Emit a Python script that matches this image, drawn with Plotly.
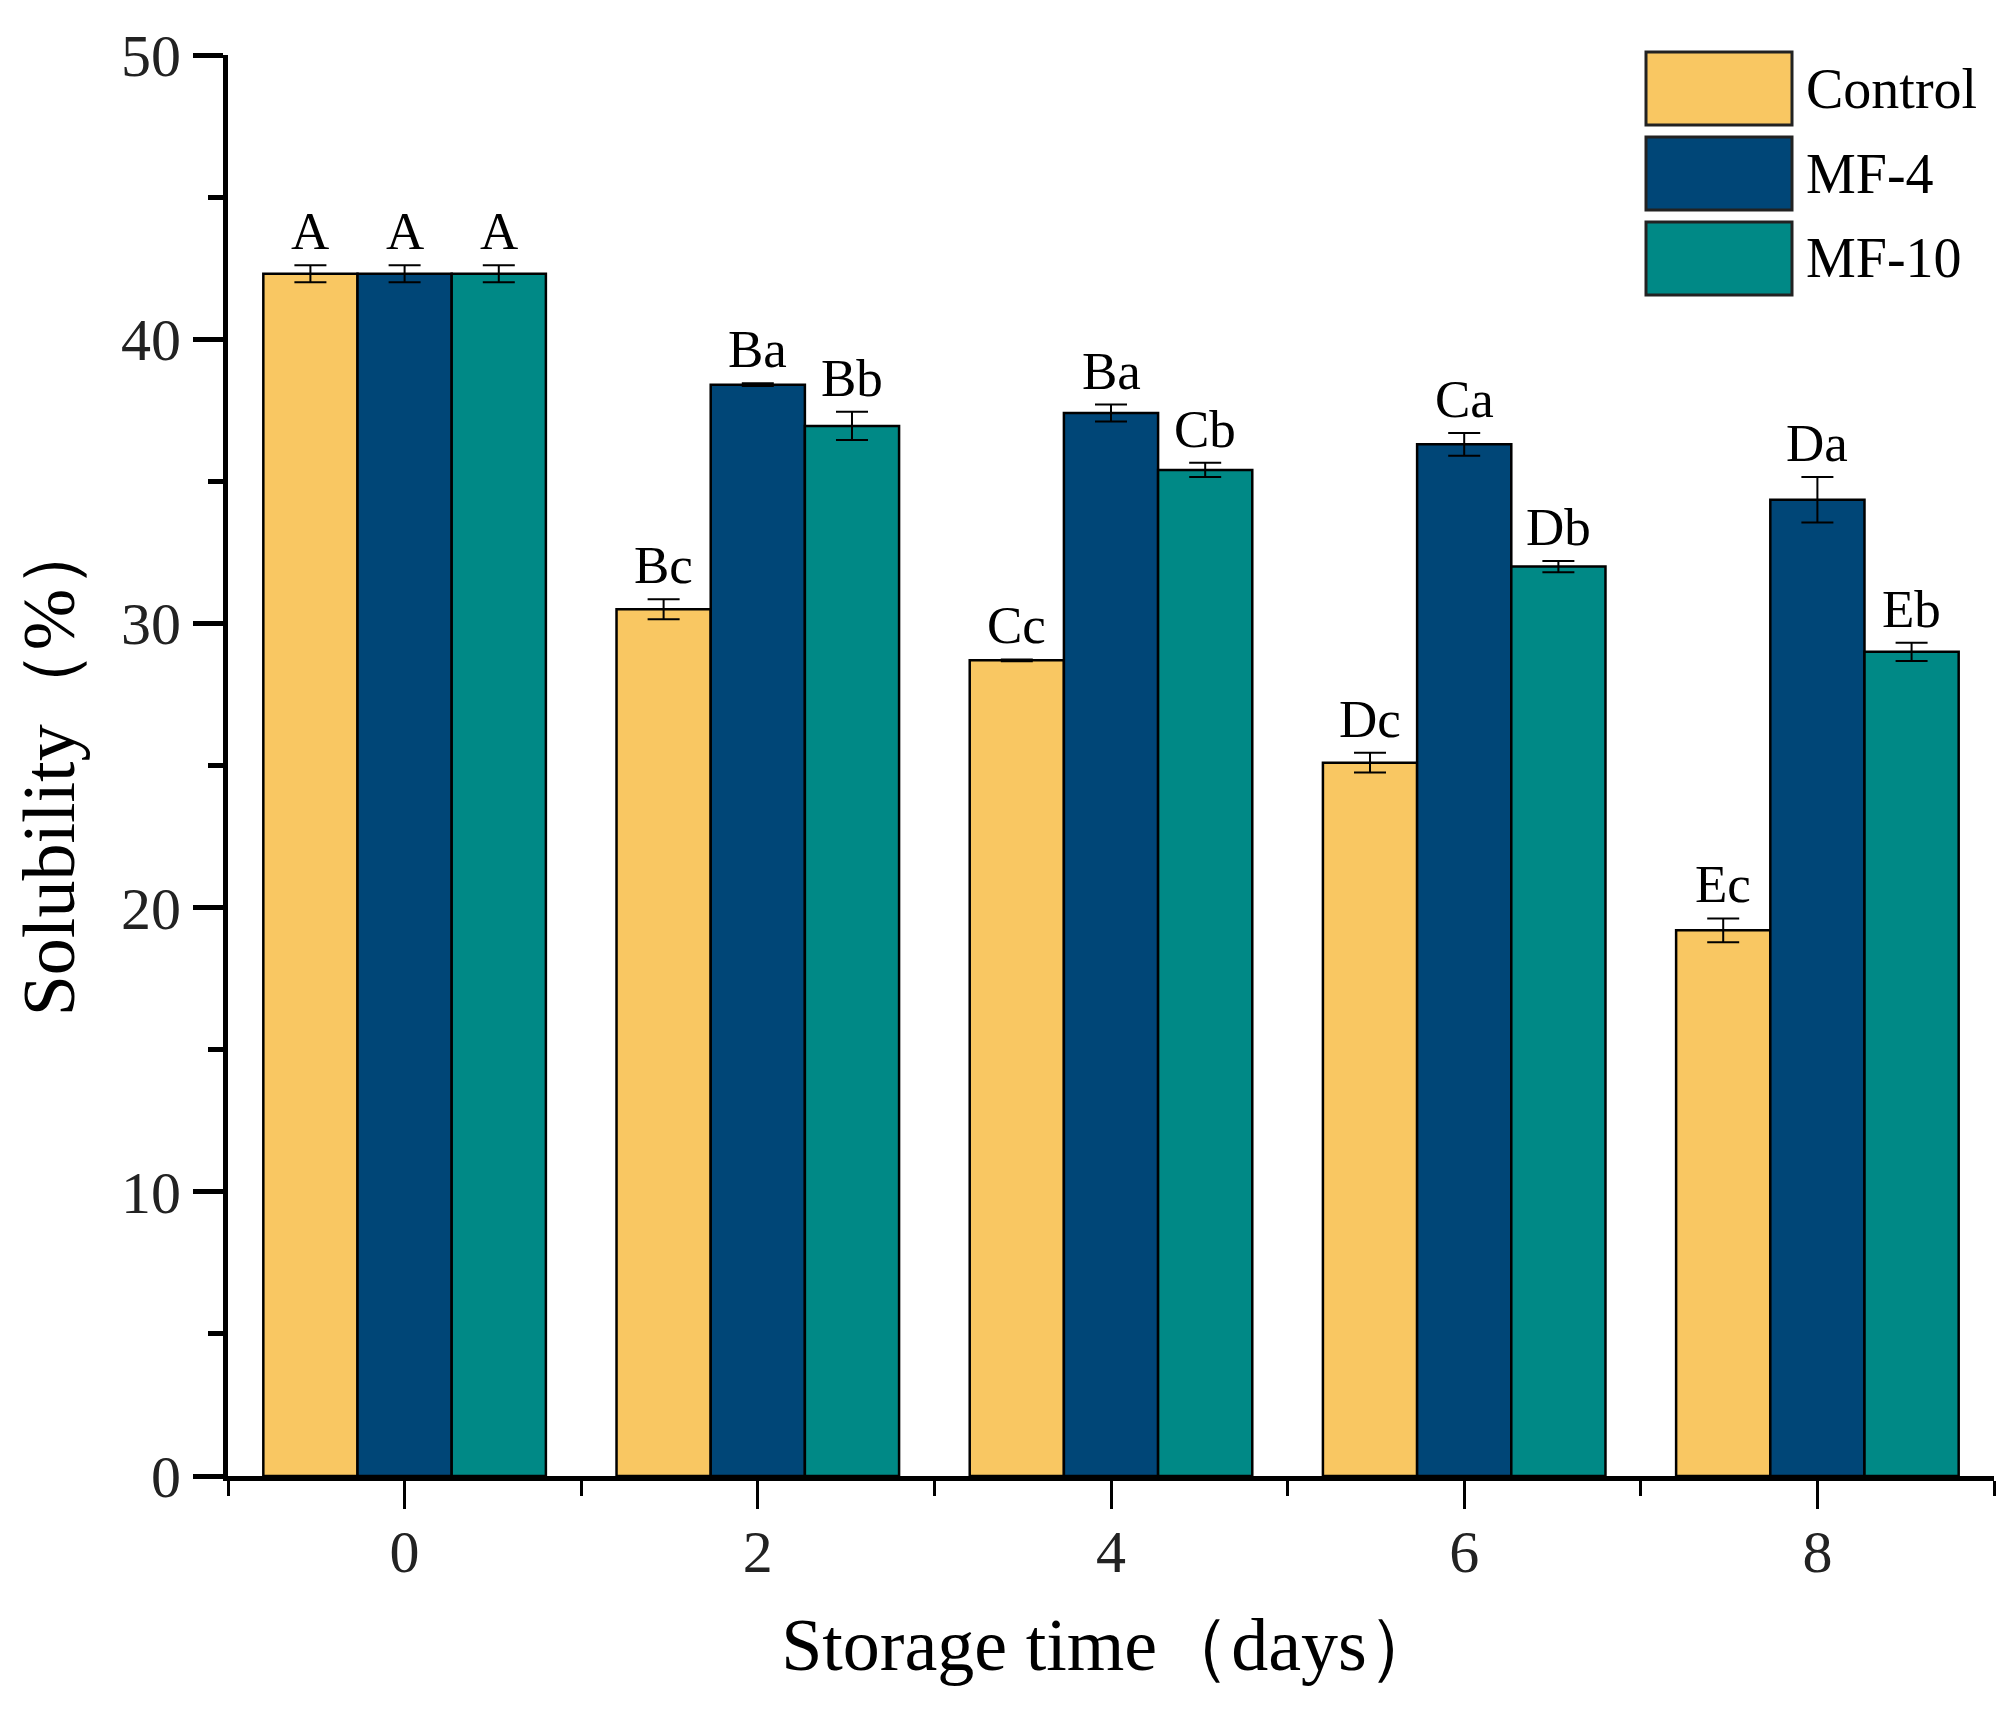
import plotly.graph_objects as go

days = [0, 2, 4, 6, 8]
series_names = ["Control", "MF-4", "MF-10"]
control = [42.3, 30.5, 28.7, 25.1, 19.2]
control_err = [0.3, 0.35, 0.03, 0.35, 0.42]
mf4 = [42.3, 38.4, 37.4, 36.3, 34.35]
mf4_err = [0.3, 0.05, 0.3, 0.4, 0.8]
mf10 = [42.3, 36.95, 35.4, 32.0, 29.0]
mf10_err = [0.3, 0.5, 0.25, 0.2, 0.32]
control_labels = ["A", "Bc", "Cc", "Dc", "Ec"]
mf4_labels = ["A", "Ba", "Ba", "Ca", "Da"]
mf10_labels = ["A", "Bb", "Cb", "Db", "Eb"]
colors = ["#F9C762", "#004677", "#008986"]

values = [control, mf4, mf10]
errors = [control_err, mf4_err, mf10_err]
labels = [control_labels, mf4_labels, mf10_labels]

FONT = "Liberation Serif, Times New Roman, serif"
W, H = 2016, 1719
ML, MR, MT, MB = 220, 30, 47, 251
BARGAP = 0.2

fig = go.Figure()
for name, v, e, c in zip(series_names, values, errors, colors):
    fig.add_trace(go.Bar(
        x=days, y=v, name=name, showlegend=False,
        marker=dict(color=c, line=dict(color="black", width=2.5)),
        error_y=dict(type="data", array=e, visible=True, color="black",
                     thickness=2, width=16),
    ))

# significance letters above error bars
n = len(series_names)
step = min(b - a for a, b in zip(days[:-1], days[1:]))
bw = step * (1 - BARGAP) / n
annotations = []
for i, (v, e, lab) in enumerate(zip(values, errors, labels)):
    off = (i - (n - 1) / 2) * bw
    for d, val, err, t in zip(days, v, e, lab):
        annotations.append(dict(
            x=d + off, y=val + err, xref="x", yref="y", text=t,
            showarrow=False, yanchor="bottom", yshift=3,
            font=dict(family=FONT, size=53, color="black")))

# custom legend (large swatches)
pw = W - ML - MR
ph = H - MT - MB
def px_x(p):
    return (p - ML) / pw
def px_y(p):
    return (H - MB - p) / ph

shapes = []
box_tops = [44, 129, 214]
BOX_L, BOX_R, BOX_H = 1638, 1784, 73
for name, c, top in zip(series_names, colors, box_tops):
    shapes.append(dict(type="rect", xref="paper", yref="paper",
                       x0=px_x(BOX_L), x1=px_x(BOX_R), y0=px_y(top + BOX_H), y1=px_y(top),
                       fillcolor=c, line=dict(color="#222222", width=3)))
    annotations.append(dict(x=px_x(BOX_R + 12), y=px_y(top + BOX_H / 2), xref="paper", yref="paper",
                            text=name, showarrow=False, xanchor="left", yanchor="middle",
                            font=dict(family=FONT, size=56, color="black")))

fig.update_layout(
    width=W, height=H,
    margin=dict(l=ML, r=MR, t=MT, b=MB),
    paper_bgcolor="white", plot_bgcolor="white",
    barmode="group", bargap=BARGAP, bargroupgap=0,
    annotations=annotations, shapes=shapes,
    font=dict(family=FONT, color="black"),
)
fig.update_xaxes(
    range=[-1, 9], tickvals=days, ticktext=[str(d) for d in days],
    showline=True, linewidth=5, linecolor="black",
    ticks="outside", ticklen=28, tickwidth=3, tickcolor="black",
    minor=dict(ticks="outside", tick0=-1, dtick=2, ticklen=15, tickwidth=3, tickcolor="black"),
    showgrid=False, zeroline=False,
    tickfont=dict(family=FONT, size=60, color="#222222"),
    ticklabelstandoff=-9,
    title=dict(text="Storage time（days）", font=dict(family=FONT, size=74, color="black"), standoff=36),
)
fig.update_yaxes(
    range=[0, 50], dtick=10, tick0=0,
    showline=True, linewidth=5, linecolor="black",
    ticks="outside", ticklen=30, tickwidth=5, tickcolor="black",
    minor=dict(ticks="outside", dtick=5, ticklen=15, tickwidth=5, tickcolor="black"),
    showgrid=False, zeroline=False,
    tickfont=dict(family=FONT, size=60, color="#222222"),
    ticklabelstandoff=0,
    title=dict(text="Solubility（%）", font=dict(family=FONT, size=74, color="black"), standoff=24),
)

fig.write_html("out.html")
